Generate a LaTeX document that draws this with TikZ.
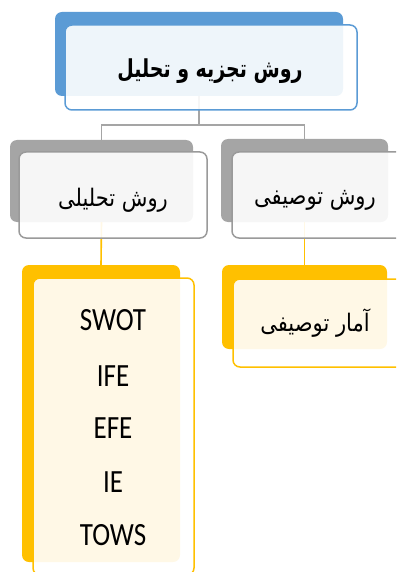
\documentclass[tikz,border=0pt]{standalone}
\usepackage{fontspec}
\setmainfont{Carlito}
\newfontfamily\arabicfont[Script=Arabic]{DejaVu Sans}
\TeXXeTstate=1
\definecolor{bblue}{HTML}{5B9BD5}
\definecolor{bgray}{HTML}{A5A5A5}
\definecolor{bgrayd}{HTML}{9A9A9A}
\definecolor{byel}{HTML}{FFC000}
\tikzset{
  backbox/.style={rounded corners=7pt, inner sep=0pt, minimum width=#1},
  frontbox/.style={rounded corners=7pt, inner sep=0pt, line width=1.5pt, fill=white, fill opacity=0.9},
  grayline/.style={draw=bgray, line width=1.6pt},
  yelline/.style={draw=byel, line width=1.6pt},
  fatxt/.style={font=\arabicfont\fontsize{21}{24}\selectfont, inner sep=0pt},
  latxt/.style={font=\fontsize{27}{30}\selectfont, inner sep=0pt},
}
\begin{document}
\begin{tikzpicture}[x=1pt,y=-1pt]
\useasboundingbox (0,0) rectangle (396,572);
\clip (0,0) rectangle (396,572);
% back boxes
\node[backbox=288pt, minimum height=84pt, fill=bblue] (topback) at (199,54) {};
\node[backbox=183pt, minimum height=82pt, fill=bgray] (lback) at (101.5,181) {};
\node[backbox=167pt, minimum height=83pt, fill=bgray] (rback) at (304.5,180.5) {};
\node[backbox=158pt, minimum height=297pt, fill=byel] (llback) at (101,413.5) {};
\node[backbox=165pt, minimum height=84pt, fill=byel] (rrback) at (304.5,307) {};
% connectors
\draw[grayline] (topback.south) -- ++(0,29) -| (lback.north);
\draw[grayline] (topback.south) -- ++(0,29) -| (rback.north);
\draw[yelline] (lback.south) -- (llback.north);
\draw[yelline] (rback.south) -- (rrback.north);
% front boxes
\node[frontbox, draw=bblue, minimum width=292pt, minimum height=85pt] (topfront) at (211,67.5) {};
\node[frontbox, draw=bgrayd, minimum width=188pt, minimum height=86pt] (lfront) at (113,195) {};
\node[frontbox, draw=bgrayd, minimum width=188pt, minimum height=86pt] (rfront) at (326,195) {};
\node[frontbox, draw=byel, minimum width=161pt, minimum height=297pt] (llfront) at (113.5,426.5) {};
\node[frontbox, draw=byel, minimum width=187pt, minimum height=88pt] (rrfront) at (326.5,323) {};
% texts
\node[fatxt, font=\arabicfont\bfseries\fontsize{19}{22}\selectfont] (ttop) at (210,71) {\scalebox{1}[1.3]{\beginR روش تجزیه و تحلیل\endR}};
\node[fatxt] (tl) at (113,200) {\scalebox{1}[1.15]{\beginR روش تحلیلی\endR}};
\node[fatxt] (tr) at (315,200) {\scalebox{1}[1.15]{\beginR روش توصیفی\endR}};
\node[fatxt] (trr) at (315,323) {\scalebox{1}[1.15]{\beginR آمار توصیفی\endR}};
\node[latxt] (t1) at (113,320) {\scalebox{1}[1.2]{SWOT}};
\node[latxt] (t2) at (113,376) {\scalebox{1}[1.2]{IFE}};
\node[latxt] (t3) at (113,428) {\scalebox{1}[1.2]{EFE}};
\node[latxt] (t4) at (113,482) {\scalebox{1}[1.2]{IE}};
\node[latxt] (t5) at (113,535) {\scalebox{1}[1.2]{TOWS}};
\end{tikzpicture}
\end{document}
